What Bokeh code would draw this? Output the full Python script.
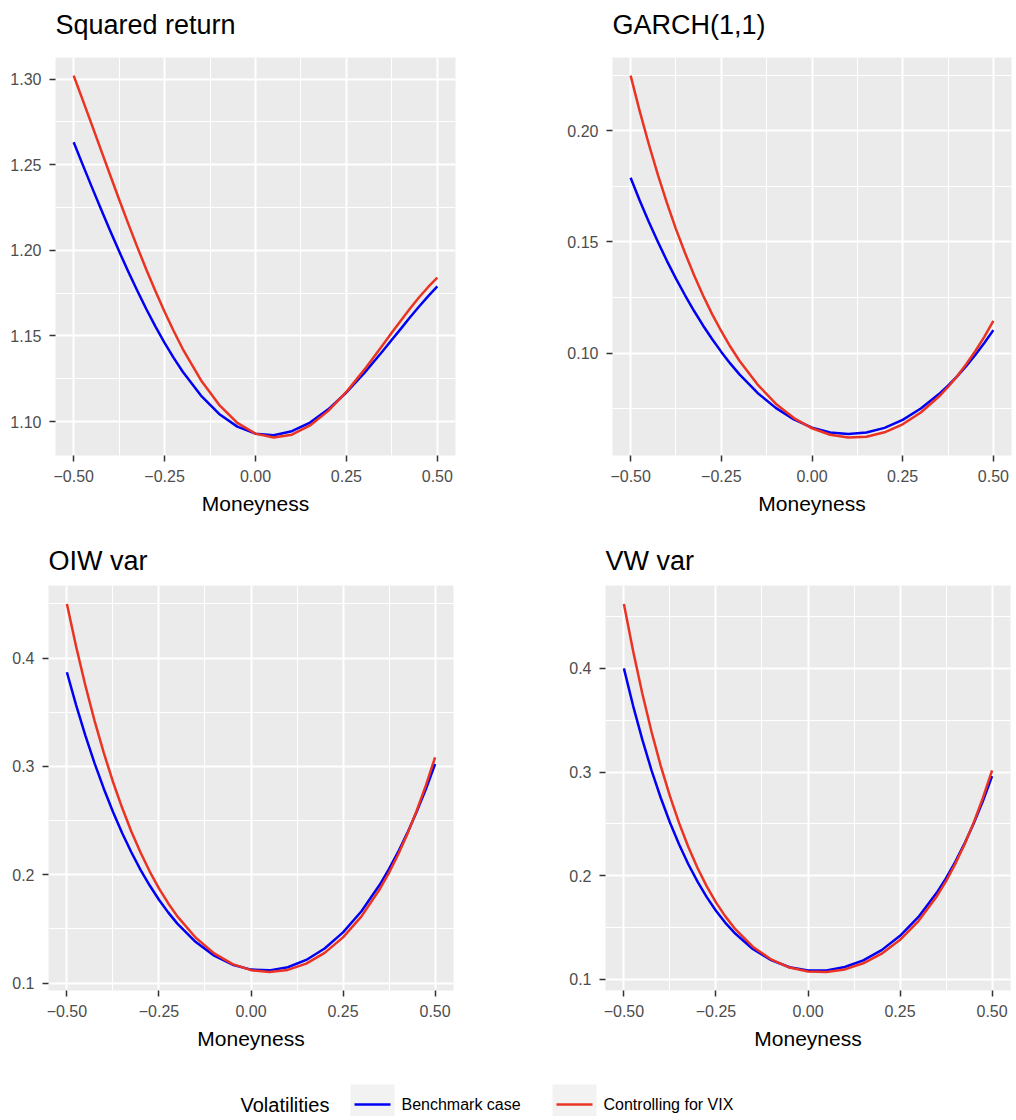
from bokeh.plotting import figure
from bokeh.layouts import column, row
from bokeh.models import Range1d, FixedTicker, Title
from bokeh.core.properties import value
from bokeh.embed import file_html
from bokeh.resources import INLINE

# ---------------- data ----------------
moneyness = [-0.500, -0.475, -0.450, -0.425, -0.400, -0.375, -0.350, -0.325, -0.300, -0.275,
             -0.250, -0.225, -0.200, -0.150, -0.100, -0.050, 0.000, 0.050, 0.100, 0.150,
             0.200, 0.250, 0.300, 0.350, 0.375, 0.400, 0.425, 0.450, 0.475, 0.500]

sq_bench = [1.2631, 1.2499, 1.2369, 1.2241, 1.2116, 1.1994, 1.1876, 1.1764, 1.1656, 1.1555,
            1.1460, 1.1372, 1.1291, 1.1152, 1.1045, 1.0971, 1.0930, 1.0921, 1.0944, 1.0995,
            1.1072, 1.1170, 1.1286, 1.1412, 1.1478, 1.1543, 1.1609, 1.1672, 1.1733, 1.1790]
sq_vix = [1.3020, 1.2877, 1.2732, 1.2586, 1.2441, 1.2297, 1.2156, 1.2019, 1.1887, 1.1761,
          1.1641, 1.1529, 1.1424, 1.1242, 1.1098, 1.0993, 1.0930, 1.0908, 1.0924, 1.0978,
          1.1063, 1.1174, 1.1305, 1.1447, 1.1520, 1.1591, 1.1660, 1.1726, 1.1786, 1.1840]

garch_bench = [0.1789, 0.1687, 0.1591, 0.1501, 0.1415, 0.1335, 0.1260, 0.1189, 0.1123, 0.1062,
               0.1005, 0.0952, 0.0904, 0.0820, 0.0753, 0.0701, 0.0664, 0.0642, 0.0635, 0.0642,
               0.0663, 0.0699, 0.0750, 0.0815, 0.0853, 0.0895, 0.0941, 0.0991, 0.1045, 0.1103]
garch_vix = [0.2249, 0.2089, 0.1941, 0.1803, 0.1676, 0.1558, 0.1450, 0.1350, 0.1258, 0.1174,
             0.1098, 0.1028, 0.0965, 0.0858, 0.0772, 0.0707, 0.0661, 0.0632, 0.0620, 0.0623,
             0.0643, 0.0679, 0.0732, 0.0804, 0.0847, 0.0895, 0.0949, 0.1008, 0.1073, 0.1145]

oiw_bench = [0.3869, 0.3566, 0.3287, 0.3031, 0.2797, 0.2582, 0.2386, 0.2208, 0.2046, 0.1901,
             0.1770, 0.1653, 0.1549, 0.1379, 0.1254, 0.1170, 0.1125, 0.1118, 0.1147, 0.1214,
             0.1320, 0.1469, 0.1664, 0.1910, 0.2054, 0.2213, 0.2389, 0.2581, 0.2792, 0.3022]
oiw_vix = [0.4500, 0.4107, 0.3749, 0.3423, 0.3127, 0.2859, 0.2618, 0.2400, 0.2205, 0.2030,
           0.1875, 0.1738, 0.1616, 0.1419, 0.1275, 0.1176, 0.1120, 0.1102, 0.1122, 0.1180,
           0.1279, 0.1422, 0.1616, 0.1869, 0.2020, 0.2190, 0.2380, 0.2591, 0.2825, 0.3084]

vw_bench = [0.4000, 0.3639, 0.3312, 0.3017, 0.2752, 0.2513, 0.2300, 0.2110, 0.1942, 0.1793,
            0.1662, 0.1548, 0.1450, 0.1293, 0.1185, 0.1117, 0.1085, 0.1086, 0.1119, 0.1183,
            0.1282, 0.1420, 0.1602, 0.1837, 0.1977, 0.2133, 0.2309, 0.2504, 0.2721, 0.2961]
vw_vix = [0.4622, 0.4167, 0.3757, 0.3389, 0.3060, 0.2767, 0.2507, 0.2277, 0.2074, 0.1897,
          0.1743, 0.1610, 0.1495, 0.1315, 0.1192, 0.1114, 0.1075, 0.1070, 0.1096, 0.1155,
          0.1248, 0.1381, 0.1562, 0.1802, 0.1948, 0.2114, 0.2301, 0.2512, 0.2750, 0.3016]

panel_titles = ["Squared return", "GARCH(1,1)", "OIW var", "VW var"]
x_axis_title = "Moneyness"
legend_title = "Volatilities"
series_names = ["Benchmark case", "Controlling for VIX"]

x_ticks = [-0.5, -0.25, 0.0, 0.25, 0.5]
x_tick_labels = ["\u22120.50", "\u22120.25", "0.00", "0.25", "0.50"]
x_minor = [-0.375, -0.125, 0.125, 0.375]

sq_yticks = [1.10, 1.15, 1.20, 1.25, 1.30]
sq_ylabels = ["1.10", "1.15", "1.20", "1.25", "1.30"]
sq_yminor = [1.125, 1.175, 1.225, 1.275]

garch_yticks = [0.10, 0.15, 0.20]
garch_ylabels = ["0.10", "0.15", "0.20"]
garch_yminor = [0.075, 0.125, 0.175, 0.225]

var_yticks = [0.1, 0.2, 0.3, 0.4]
var_ylabels = ["0.1", "0.2", "0.3", "0.4"]
var_yminor = [0.15, 0.25, 0.35, 0.45]

# ---------------- style ----------------
FONT = "Liberation Sans"
BLUE = "#0000F5"
RED = "#EA3323"
PANEL_BG = "#EBEBEB"


def make_panel(title, bench, vix, yticks, ylabels, yminor,
               width, height, bl, br, bt, bb, standoff, spacer):
    ally = bench + vix
    lo, hi = min(ally), max(ally)
    pad = 0.05 * (hi - lo)
    xlo, xhi = min(moneyness), max(moneyness)
    xpad = 0.05 * (xhi - xlo)
    p = figure(width=width, height=height,
               x_range=Range1d(xlo - xpad, xhi + xpad),
               y_range=Range1d(lo - pad, hi + pad),
               output_backend="svg", toolbar_location=None,
               min_border_left=bl, min_border_right=br,
               min_border_top=bt, min_border_bottom=bb,
               background_fill_color=PANEL_BG, border_fill_color="white",
               outline_line_color=None)
    if spacer is not None:
        p.add_layout(Title(text=" ", text_font_size="1px", standoff=spacer), "above")
    p.title.text = title
    p.title.text_font = FONT
    p.title.text_font_size = "27px"
    p.title.text_font_style = "normal"
    p.title.text_color = "black"
    p.title.align = "left"
    p.title.standoff = standoff

    xt = FixedTicker(ticks=x_ticks, minor_ticks=x_minor)
    yt = FixedTicker(ticks=yticks, minor_ticks=yminor)
    for ax, tk, ticks, labels in ((p.xaxis[0], xt, x_ticks, x_tick_labels),
                                  (p.yaxis[0], yt, yticks, ylabels)):
        ax.ticker = tk
        ax.major_label_overrides = dict(zip(ticks, labels))
        ax.axis_line_color = None
        ax.major_tick_out = 6
        ax.major_tick_in = 0
        ax.major_tick_line_color = "#333333"
        ax.major_tick_line_width = 1.5
        ax.minor_tick_line_color = None
        ax.major_label_text_font = FONT
        ax.major_label_text_font_size = "16px"
        ax.major_label_text_color = "#4D4D4D"
        ax.major_label_standoff = 8
    p.xgrid.ticker = xt
    p.ygrid.ticker = yt
    for g in (p.xgrid[0], p.ygrid[0]):
        g.grid_line_color = "white"
        g.grid_line_width = 2
        g.minor_grid_line_color = "white"
        g.minor_grid_line_width = 1

    p.xaxis.axis_label = x_axis_title
    p.xaxis.axis_label_text_font = FONT
    p.xaxis.axis_label_text_font_size = "21px"
    p.xaxis.axis_label_text_font_style = "normal"
    p.xaxis.axis_label_text_color = "black"
    p.xaxis.axis_label_standoff = 7

    p.line(moneyness, bench, line_color=BLUE, line_width=2.5, line_join="round")
    p.line(moneyness, vix, line_color=RED, line_width=2.5, line_join="round")
    return p


# top row: 0..532 px, frames at y 57..455
p1 = make_panel(panel_titles[0], sq_bench, sq_vix, sq_yticks, sq_ylabels, sq_yminor,
                508, 532, 55, 53, 57, 77, 12, 9)
p2 = make_panel(panel_titles[1], garch_bench, garch_vix, garch_yticks, garch_ylabels, garch_yminor,
                508, 532, 104, 5, 57, 77, 12, 9)
# bottom row: 532..1078 px, frames at y 585..990
p3 = make_panel(panel_titles[2], oiw_bench, oiw_vix, var_yticks, var_ylabels, var_yminor,
                508, 546, 48, 55, 53, 88, 20, None)
p4 = make_panel(panel_titles[3], vw_bench, vw_vix, var_yticks, var_ylabels, var_yminor,
                508, 546, 97, 6, 53, 88, 20, None)

# ---------------- legend strip ----------------
leg = figure(width=1016, height=38, x_range=Range1d(0, 1016), y_range=Range1d(0, 38),
             output_backend="svg", toolbar_location=None,
             x_axis_type=None, y_axis_type=None,
             min_border_left=0, min_border_right=0, min_border_top=0, min_border_bottom=0,
             outline_line_color=None, border_fill_color="white", background_fill_color="white")
leg.grid.visible = False
leg.text(x=[240], y=[12], text=[legend_title], text_font=value(FONT),
         text_font_size="20px", text_baseline="middle", text_align="left", text_color="black")
leg.quad(left=[350, 552], right=[394, 596], bottom=[0, 0], top=[32, 32],
         fill_color="#F2F2F2", line_color=None)
leg.segment(x0=[354, 556], x1=[390, 592], y0=[12, 12], y1=[12, 12],
            line_color=[BLUE, RED], line_width=2.5)
leg.text(x=[401, 603], y=[12, 12], text=series_names, text_font=value(FONT),
         text_font_size="16px", text_baseline="middle", text_align="left", text_color="black")

layout = column(row(p1, p2), row(p3, p4), leg)

with open("out.html", "w") as f:
    f.write(file_html(layout, INLINE))
